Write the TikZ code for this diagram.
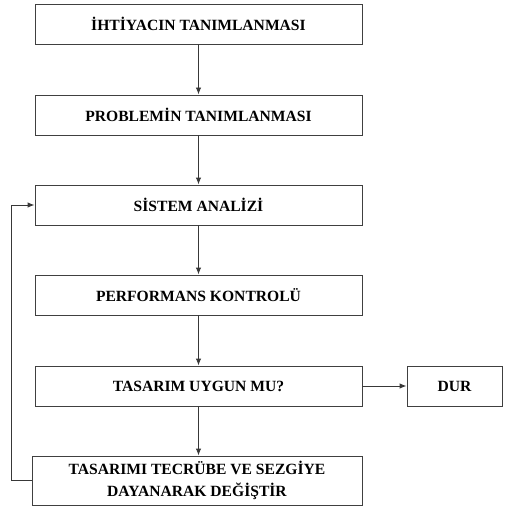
\documentclass[tikz,border=0pt]{standalone}
\usepackage{fontspec}
\setmainfont{Liberation Serif}
\usetikzlibrary{arrows.meta}
\begin{document}
\begin{tikzpicture}[x=1pt,y=-1pt,
  stepbox/.style={draw=black!75, line width=0.95pt, rectangle, inner sep=0pt,
    minimum width=327pt, minimum height=40pt, align=center,
    font=\fontsize{15.6}{22}\selectfont\bfseries},
  flow/.style={draw=black!78, line width=0.95pt, -{Latex[length=7pt,width=5.5pt]}}]
\useasboundingbox (0,0) rectangle (504,508);
\node[stepbox] (b1) at (198.5,24) {İHTİYACIN TANIMLANMASI};
\node[stepbox] (b2) at (198.5,115) {PROBLEMİN TANIMLANMASI};
\node[stepbox] (b3) at (198.5,205) {SİSTEM ANALİZİ};
\node[stepbox] (b4) at (198.5,295) {PERFORMANS KONTROLÜ};
\node[stepbox] (b5) at (198.5,386) {TASARIM UYGUN MU?};
\node[stepbox, minimum width=330pt, minimum height=49pt] (b6) at (197,480.5)
  {TASARIMI TECRÜBE VE SEZGİYE\\DAYANARAK DEĞİŞTİR};
\node[stepbox, minimum width=95pt] (dur) at (454.5,386) {DUR};
\draw[flow] (b1) -- (b2);
\draw[flow] (b2) -- (b3);
\draw[flow] (b3) -- (b4);
\draw[flow] (b4) -- (b5);
\draw[flow] (b5.south) -- (b5.south |- b6.north);
\draw[flow] (b5) -- (dur);
\draw[flow] (b6.west) -- ++(-20,0) |- (b3.west);
\end{tikzpicture}
\end{document}
